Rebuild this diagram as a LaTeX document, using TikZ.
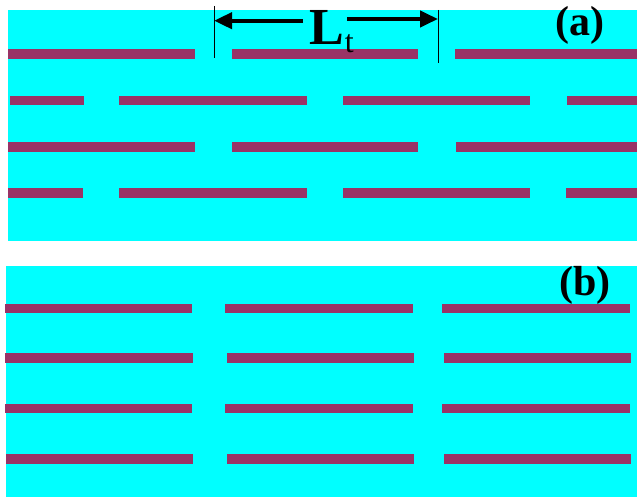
\documentclass[tikz,border=0pt]{standalone}
\usepackage{fontspec}
\setmainfont{Liberation Serif}
\usetikzlibrary{arrows.meta}
\definecolor{cyanbg}{RGB}{0,255,255}
\definecolor{barcol}{RGB}{153,51,102}
\begin{document}
\begin{tikzpicture}[x=1pt,y=-1pt,
  panel/.style={fill=cyanbg},
  barstyle/.style={fill=barcol},
  dimline/.style={line width=1pt,draw=black},
  dimarrow/.style={line width=4pt,-{Triangle[length=18pt,width=16pt]}},
  lbl/.style={font=\fontsize{42}{42}\selectfont\bfseries,inner sep=0pt,anchor=base}]
\useasboundingbox (0,0) rectangle (637,497);
\fill[white] (0,0) rectangle (637,497);
% panels
\fill[panel] (8,10) rectangle (637,241);
\fill[panel] (6,265.7) rectangle (637,497);
% bars
\foreach \y/\list in {54/{8/195,232/418,455/637},
                      100.7/{10/84,119/307,343/530,567/637},
                      147/{8/195,232/418,456/637},
                      193/{8/83,119/307,343/530,566/637},
                      308.3/{5/192,225/413,442/630},
                      358/{5/193,227/414,444/631},
                      408.3/{5/192,225/413,442/630},
                      459.2/{6/193,227/414,444/631}}{
  \foreach \a/\b in \list {
    \fill[barstyle] (\a,\y-4.8) rectangle (\b,\y+4.8);
  }
}
% dimension L_t
\coordinate (lt) at (214,6);
\coordinate (lb) at (214,58);
\coordinate (rt) at (438,10);
\coordinate (rb) at (438,63);
\draw[dimline] (lt) -- (lb);
\draw[dimline] (rt) -- (rb);
\node[inner sep=0pt,anchor=base west] (L) at (309,45)
  {{\fontsize{52}{52}\selectfont\bfseries L}\hspace{1pt}\raisebox{-8pt}{\fontsize{32}{32}\selectfont t}};
\coordinate (la) at (303,20.7);
\coordinate (lend) at (214,20.7);
\coordinate (ra) at (347,19);
\coordinate (rend) at (438,19);
\draw[dimarrow] (la) -- (lend);
\draw[dimarrow] (ra) -- (rend);
% labels
\node[lbl] (a) at (580,36) {(a)};
\node[lbl] (b) at (585,295) {(b)};
\end{tikzpicture}
\end{document}
